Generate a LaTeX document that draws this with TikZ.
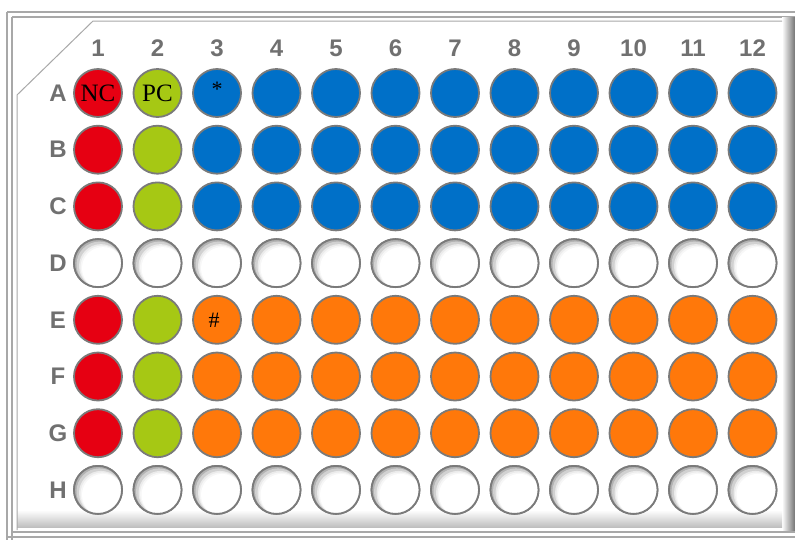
\documentclass[tikz,border=0pt]{standalone}
\usepackage{fontspec}
\setmainfont{Liberation Serif}
\newfontfamily\lblfont{Liberation Sans}
\definecolor{wred}{HTML}{E60012}
\definecolor{wlime}{HTML}{A6C814}
\definecolor{wblue}{HTML}{0070C8}
\definecolor{worange}{HTML}{FF780A}
\definecolor{wline}{HTML}{7A7A7A}
\definecolor{lbl}{HTML}{707070}
\definecolor{frame}{HTML}{A8A8A8}
\tikzset{
  well/.style={circle, minimum size=48pt, inner sep=0pt, draw=wline, line width=1.8pt},
  empty/.style={well},
  red/.style={well, fill=wred},
  lime/.style={well, fill=wlime},
  blue/.style={well, fill=wblue},
  orange/.style={well, fill=worange},
  collbl/.style={font=\lblfont\bfseries\fontsize{24}{24}\selectfont, text=lbl, inner sep=0pt},
  welltxt/.style={font=\fontsize{25}{25}\selectfont, text=black, inner sep=0pt},
  marktxt/.style={font=\fontsize{22}{22}\selectfont, text=black, inner sep=0pt},
  frameline/.style={draw=frame, line width=1.2pt}
}
\begin{document}
\begin{tikzpicture}[x=1pt,y=-1pt]
\useasboundingbox (0,0) rectangle (795,539);
\fill[white] (0,0) rectangle (795,539);
% outer frame lines
\draw[frameline] (7,12) -- (800,12);
\draw[frameline] (12,17) -- (800,17);
\draw[frameline] (7,12) -- (7,545);
\draw[frameline] (12,17) -- (12,545);
% shadows
\shade[left color=white, right color=black!55] (782,17) rectangle (795,532);
\shade[top color=white, bottom color=black!25] (17,510) rectangle (782,527);
\draw[frameline] (12,532) -- (800,532);
\draw[frameline] (7,537) -- (800,537);
% inner plate outline
\draw[frameline, line width=1pt] (17,530) -- (17,95) -- (93,21) -- (782,21);
% labels
\foreach \r [count=\ri from 0] in {A,B,C,D,E,F,G,H}{
  \node[collbl] (row-\r) at (58,{93+\ri*56.7}) {\r};
}
\foreach \c [count=\ci from 0] in {1,...,12}{
  \node[collbl] (col-\c) at ({98+\ci*59.5},48) {\c};
}
% wells
\foreach \r [count=\ri from 0] in {A,B,C,D,E,F,G,H}{
  \foreach \c [count=\ci from 0] in {1,...,12}{
    \pgfmathsetmacro{\xx}{98+\ci*59.5}
    \pgfmathsetmacro{\yy}{93+\ri*56.7}
    \ifnum\ri=3 \def\st{empty}\else\ifnum\ri=7 \def\st{empty}\else
      \ifnum\ci=0 \def\st{red}\else\ifnum\ci=1 \def\st{lime}\else
        \ifnum\ri<3 \def\st{blue}\else\def\st{orange}\fi\fi\fi\fi\fi
    \node[\st] (w-\r-\c) at (\xx,\yy) {};
  }
}
% inner shadow of the empty wells
\foreach \r in {D,H}{
  \foreach \c in {1,...,12}{
    \begin{scope}
      \clip (w-\r-\c.center) circle[radius=24];
      \fill[black!30] (w-\r-\c.center) circle[radius=24];
      \fill[black!18] ([shift={(1.5,1.5)}]w-\r-\c.center) circle[radius=23];
      \fill[black!8] ([shift={(3,3)}]w-\r-\c.center) circle[radius=22];
      \fill[black!3] ([shift={(4,4)}]w-\r-\c.center) circle[radius=21.5];
      \fill[white] ([shift={(5,5)}]w-\r-\c.center) circle[radius=21];
    \end{scope}
    \draw[wline, line width=1.8pt] (w-\r-\c.center) circle[radius=24];
  }
}
\node[welltxt] (t-nc) at (w-A-1) {NC};
\node[welltxt] (t-pc) at (w-A-2) {PC};
\node[marktxt] (t-star) at ([yshift=4pt]w-A-3) {*};
\node[marktxt] (t-hash) at ([xshift=-3pt]w-E-3) {\#};
\end{tikzpicture}
\end{document}
